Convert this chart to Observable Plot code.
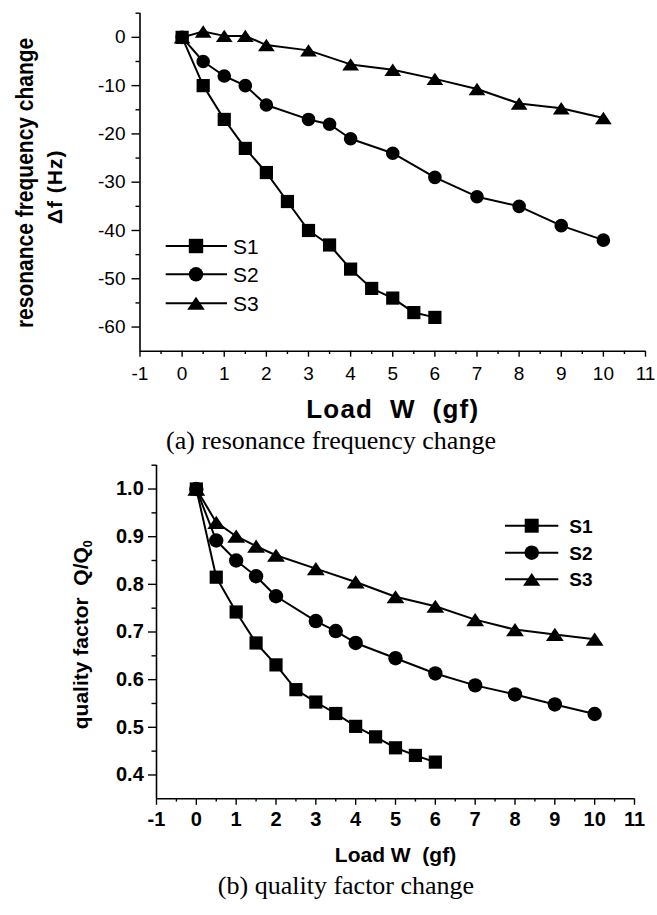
<!DOCTYPE html>
<html><head><meta charset="utf-8">
<script src="https://cdn.jsdelivr.net/npm/d3@7"></script>
<script src="https://cdn.jsdelivr.net/npm/@observablehq/plot@0.6"></script>
<style>
html,body{margin:0;padding:0;background:#fff;}
#page{position:relative;width:657px;height:915px;overflow:hidden;background:#fff;}
.cap{position:absolute;transform:translateX(-50%);white-space:nowrap;font-family:"Liberation Serif","Times New Roman",serif;font-size:26px;line-height:26px;color:#000;}
svg text{white-space:pre;}
</style></head><body><div id="page">
<div id="chartA" style="position:absolute;left:0;top:0"></div>
<div id="chartB" style="position:absolute;left:0;top:455px"></div>
<div class="cap" id="capA" style="left:331px;top:428px">(a) resonance frequency change</div>
<div class="cap" id="capB" style="left:346px;top:873px">(b) quality factor change</div>
</div>
<script>
// ---- data ----
const seriesNames = ["S1", "S2", "S3"];
const loadS1 = [0, 0.5, 1, 1.5, 2, 2.5, 3, 3.5, 4, 4.5, 5, 5.5, 6];
const loadS2 = [0, 0.5, 1, 1.5, 2, 3, 3.5, 4, 5, 6, 7, 8, 9, 10];
const loadS3 = [0, 0.5, 1, 1.5, 2, 3, 4, 5, 6, 7, 8, 9, 10];
const dfS1 = [0, -10, -17, -23, -28, -34, -40, -43, -48, -52, -54, -57, -58];
const dfS2 = [0, -5, -8, -10, -14, -17, -18, -21, -24, -29, -33, -35, -39, -42];
const dfS3 = [0, 1.2, 0.3, 0.3, -1.6, -2.7, -5.6, -6.7, -8.6, -10.7, -13.7, -14.7, -16.7];
const qS1 = [1.0, 0.815, 0.742, 0.677, 0.631, 0.579, 0.553, 0.529, 0.502, 0.48, 0.457, 0.441, 0.427];
const qS2 = [1.0, 0.892, 0.85, 0.817, 0.775, 0.723, 0.702, 0.677, 0.645, 0.613, 0.588, 0.569, 0.548, 0.528];
const qS3 = [1.0, 0.93, 0.901, 0.88, 0.861, 0.833, 0.805, 0.774, 0.754, 0.726, 0.705, 0.695, 0.685];
const xTicks = [-1, 0, 1, 2, 3, 4, 5, 6, 7, 8, 9, 10, 11];
const xMinor = [-0.5, 0.5, 1.5, 2.5, 3.5, 4.5, 5.5, 6.5, 7.5, 8.5, 9.5, 10.5];
const dfTicks = [-60, -50, -40, -30, -20, -10, 0];
const dfMinor = [-55, -45, -35, -25, -15, -5, 5];
const qTicks = [0.4, 0.5, 0.6, 0.7, 0.8, 0.9, 1.0];
const qMinor = [0.45, 0.55, 0.65, 0.75, 0.85, 0.95, 1.05];
const xTitleA = "Load  W  (gf)";
const xTitleB = "Load W  (gf)";
const yTitleA1 = "resonance frequency change";
const yTitleA2 = "\u0394f (Hz)";
const yTitleB = "quality factor  Q/Q0";

// ---- symbols ----
const symSquare = {draw(ctx, size) { const r = Math.sqrt(size / Math.PI); ctx.rect(-r, -r, 2 * r, 2 * r); }};
const symCircle = {draw(ctx, size) { const r = Math.sqrt(size / Math.PI); ctx.moveTo(r, 0); ctx.arc(0, 0, r, 0, 2 * Math.PI); }};
const symTriangle = {draw(ctx, size) { const r = Math.sqrt(size / Math.PI); ctx.moveTo(0, -r); ctx.lineTo(1.35 * r, r); ctx.lineTo(-1.35 * r, r); ctx.closePath(); }};
const syms = [symSquare, symCircle, symTriangle];

function rows(name, xs, ys) { return xs.map((x, i) => ({name, load: x, value: ys[i]})); }
const dataA = [rows("S1", loadS1, dfS1), rows("S2", loadS2, dfS2), rows("S3", loadS3, dfS3)];
const dataB = [rows("S1", loadS1, qS1), rows("S2", loadS2, qS2), rows("S3", loadS3, qS3)];

function seriesMarks(data, radii) {
  const lines = data.map(d => Plot.line(d, {x: "load", y: "value", stroke: "#000", strokeWidth: 2, strokeLinejoin: "round"}));
  const dots = [2, 1, 0].map(i => Plot.dot(data[i], {x: "load", y: "value", r: radii[i], symbol: syms[i], fill: "#000", stroke: "none"}));
  return [...lines, ...dots];
}

const font = "'Liberation Sans', Arial, Helvetica, sans-serif";

// ---- chart (a) ----
const plotA = Plot.plot({
  width: 657, height: 430,
  marginTop: 12.7, marginRight: 12, marginBottom: 79.3, marginLeft: 139.5,
  x: {domain: [-1, 11], axis: null, label: null},
  y: {domain: [-65, 5], axis: null, label: null},
  style: {background: "transparent", fontFamily: font, color: "#000", overflow: "visible"},
  marks: [
    Plot.axisY(dfMinor, {tickSize: 4, tickFormat: () => "", strokeWidth: 1.4, label: null}),
    Plot.axisY(dfTicks, {tickSize: 8, tickPadding: 6.5, fontSize: 19, tickFormat: d => String(d), strokeWidth: 1.4, label: null}),
    Plot.axisX(xMinor, {tickSize: 3.3, tickFormat: () => "", strokeWidth: 1.4, label: null}),
    Plot.axisX(xTicks, {tickSize: 6, tickPadding: 9, fontSize: 19, tickFormat: d => String(d), strokeWidth: 1.4, label: null}),
    Plot.ruleX([-1], {stroke: "#000", strokeWidth: 1.6}),
    Plot.ruleY([-65], {stroke: "#000", strokeWidth: 1.6}),
    ...seriesMarks(dataA, [6.6, 6.8, 6.2]),
    Plot.text([yTitleA1], {text: d => d, frameAnchor: "left", rotate: -90, dx: -115.2, dy: 0.7, fontSize: 21, fontWeight: "bold", lineAnchor: "middle", textAnchor: "middle"}),
    Plot.text([yTitleA2], {text: d => d, frameAnchor: "left", rotate: -90, dx: -85.2, dy: 4.6, fontSize: 21, fontWeight: "bold", lineAnchor: "middle", textAnchor: "middle"}),
    Plot.text([xTitleA], {text: d => d, frameAnchor: "bottom", lineAnchor: "top", dy: 48.5, fontSize: 26, fontWeight: "bold"})
  ]
});

// ---- chart (b) ----
const plotB = Plot.plot({
  width: 657, height: 415,
  marginTop: 9.7, marginRight: 23, marginBottom: 71.7, marginLeft: 156,
  x: {domain: [-1, 11], axis: null, label: null},
  y: {domain: [0.35, 1.05], axis: null, label: null},
  style: {background: "transparent", fontFamily: font, fontWeight: "bold", color: "#000", overflow: "visible"},
  marks: [
    Plot.axisY(qMinor, {tickSize: 4.5, tickFormat: () => "", strokeWidth: 1.4, label: null}),
    Plot.axisY(qTicks, {tickSize: 8, tickPadding: 4.7, fontSize: 20, fontWeight: "bold", tickFormat: d => d.toFixed(1), strokeWidth: 1.4, label: null}),
    Plot.axisX(xMinor, {tickSize: 3.3, tickFormat: () => "", strokeWidth: 1.4, label: null}),
    Plot.axisX(xTicks, {tickSize: 6.5, tickPadding: 6, fontSize: 20, fontWeight: "bold", tickFormat: d => String(d), strokeWidth: 1.4, label: null}),
    Plot.ruleX([-1], {stroke: "#000", strokeWidth: 1.6}),
    Plot.ruleY([0.35], {stroke: "#000", strokeWidth: 1.6}),
    ...seriesMarks(dataB, [6.6, 7.2, 6.6]),
    Plot.text([yTitleB], {text: d => d, frameAnchor: "left", rotate: -90, dx: -75.4, dy: 2.7, fontSize: 21, fontWeight: "bold", lineAnchor: "middle", textAnchor: "middle"}),
    Plot.text([xTitleB], {text: d => d, frameAnchor: "bottom", lineAnchor: "top", dy: 48.4, fontSize: 21, fontWeight: "bold"})
  ]
});

// ---- text tweaks ----
function tweak(svg, match, fn) { svg.querySelectorAll("text").forEach(t => { if (t.textContent === match) fn(t); }); }
tweak(plotA, yTitleA1, t => t.setAttribute("transform", (t.getAttribute("transform") || "") + " scale(1,1.15)"));
tweak(plotA, yTitleA2, t => t.style.letterSpacing = "1px");
tweak(plotA, xTitleA, t => t.style.letterSpacing = "1.2px");
tweak(plotB, yTitleB, t => {
  t.textContent = "quality factor  Q/Q";
  const ts = document.createElementNS("http://www.w3.org/2000/svg", "tspan");
  ts.setAttribute("font-size", "0.6em");
  ts.setAttribute("dy", "0.35em");
  ts.textContent = "0";
  t.appendChild(ts);
});

document.getElementById("chartA").appendChild(plotA);
document.getElementById("chartB").appendChild(plotB);

// ---- legends ----
const ov = d3.select("#page").append("svg")
  .attr("width", 657).attr("height", 915)
  .style("position", "absolute").style("left", 0).style("top", 0).style("pointer-events", "none");
function legend(cfg) {
  seriesNames.forEach((name, i) => {
    const y = cfg.rows[i];
    ov.append("line").attr("x1", cfg.x0).attr("x2", cfg.x1).attr("y1", y).attr("y2", y)
      .attr("stroke", "#000").attr("stroke-width", 2);
    ov.append("path").attr("d", d3.symbol(syms[i], Math.PI * cfg.r[i] * cfg.r[i])())
      .attr("transform", `translate(${cfg.mx},${y})`).attr("fill", "#000");
    ov.append("text").attr("x", cfg.tx).attr("y", y + cfg.fs * 0.358)
      .attr("font-family", font).attr("font-size", cfg.fs).attr("font-weight", cfg.fw)
      .attr("fill", "#000").text(name);
  });
}
legend({x0: 165.7, x1: 227, mx: 196, tx: 233, rows: [246, 274.3, 303.3], r: [7.2, 7.2, 6.5], fs: 21, fw: "normal"});
legend({x0: 505, x1: 558.3, mx: 531.7, tx: 569.3, rows: [525.7, 552.7, 579.3], r: [7, 7.2, 6.4], fs: 19, fw: "bold"});
</script></body></html>
